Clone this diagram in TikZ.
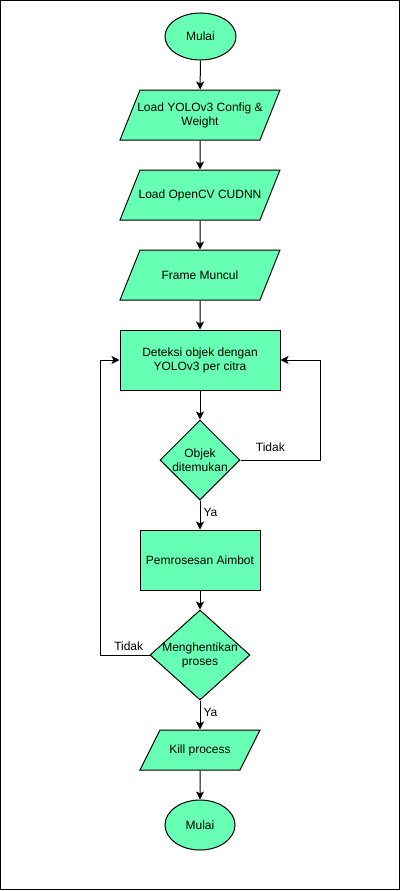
\documentclass[tikz,border=0pt]{standalone}
\usepackage{fontspec}
\setmainfont{Liberation Sans}
\usetikzlibrary{shapes.geometric,arrows.meta}
\definecolor{boxgreen}{HTML}{66FFB3}
\tikzset{
    terminal/.style={ellipse, draw, fill=boxgreen, minimum width=71pt, minimum height=47pt, inner sep=0pt},
    io/.style n args={3}{trapezium, trapezium left angle=#3, trapezium right angle={180-#3}, draw, fill=boxgreen, inner sep=0pt,
        execute at begin node={\begin{minipage}[c][#2][c]{#1}\centering\advance\leftskip-20pt\advance\rightskip-20pt},
        execute at end node={\end{minipage}}},
    process/.style={rectangle, draw, fill=boxgreen, align=center},
    decision/.style={diamond, draw, fill=boxgreen, inner sep=0pt},
}

\begin{document}
\begin{tikzpicture}[x=1pt, y=-1pt, line width=1pt, font=\fontsize{12}{14}\selectfont, >={Stealth[length=8pt,width=8pt,inset=2pt]}]
        \useasboundingbox (0,0) rectangle (401,891);
        \draw (0.5,0.5) rectangle (399.5,889.5);

        \node[terminal] (start) at (200.5,36.5) {Mulai};
        \node[io={120pt}{50pt}{68.2}] (cfg) at (200,115) {Load YOLOv3 Config \&\\Weight};
        \node[io={120pt}{50pt}{68.2}] (cv) at (200,195) {Load OpenCV CUDNN};
        \node[io={120pt}{50pt}{68.2}] (frame) at (200,275) {Frame Muncul};
        \node[process, minimum width=160pt, minimum height=60pt] (detect) at (200,360) {Deteksi objek dengan\\YOLOv3 per citra};
        \node[decision, minimum width=80pt, minimum height=80pt, label={[align=center]center:Objek\\ditemukan}] (found) at (200,460) {};
        \node[process, minimum width=120pt, minimum height=60pt] (aim) at (200,560) {Pemrosesan Aimbot};
        \node[decision, minimum width=100pt, minimum height=90pt, label={[align=center]center:Menghentikan\\proses}] (stop) at (200,655) {};
        \node[io={80pt}{40pt}{63.4}] (kill) at (200,750) {Kill process};
        \node[terminal, minimum width=70pt, minimum height=50pt] (end) at (200,825) {Mulai};

        \coordinate (rturn) at (320,460);
        \coordinate (lturn) at (100,655);

        \draw[->] (start) -- (cfg);
        \draw[->] (cfg) -- (cv);
        \draw[->] (cv) -- (frame);
        \draw[->] (frame) -- (detect);
        \draw[->] (detect) -- (found);
        \draw[->] (found) -- node[pos=0.4, right, inner sep=3pt] {Ya} (aim);
        \draw[->] (found) -- node[pos=0.375, above=5pt] {Tidak} (rturn) |- (detect);
        \draw[->] (aim) -- (stop);
        \draw[->] (stop) -- node[pos=0.42, above=1pt] {Tidak} (lturn) |- (detect);
        \draw[->] (stop) -- node[pos=0.4, right, inner sep=3pt] {Ya} (kill);
        \draw[->] (kill) -- (end);
    \end{tikzpicture}
\end{document}
